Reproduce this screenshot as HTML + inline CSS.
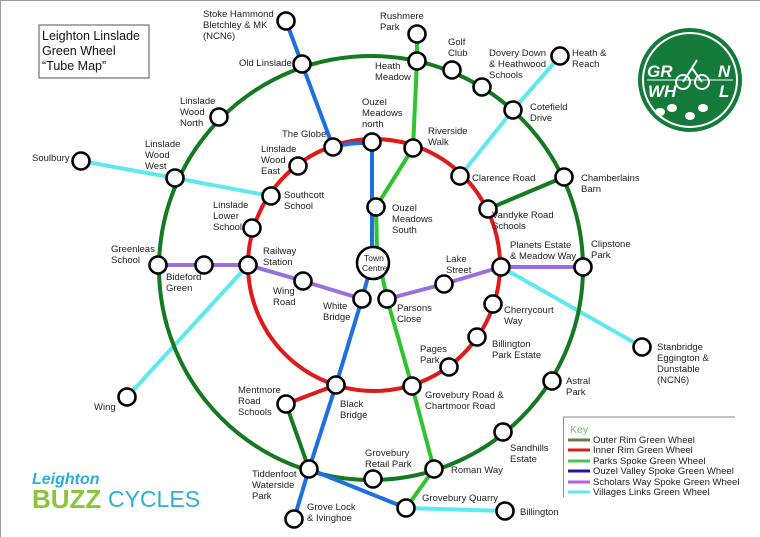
<!DOCTYPE html>
<html><head><meta charset="utf-8"><style>
html,body{margin:0;padding:0;background:#fff}
svg{display:block}
text{font-family:"Liberation Sans",sans-serif;font-size:9.5px;fill:#222}
</style></head><body>
<svg width="760" height="537" viewBox="0 0 760 537" xmlns="http://www.w3.org/2000/svg">
<rect x="0" y="0" width="760" height="537" fill="#fff"/>
<line x1="0" y1="0.5" x2="760" y2="0.5" stroke="#999" stroke-width="1"/>
<line x1="0.5" y1="0" x2="0.5" y2="537" stroke="#999" stroke-width="1"/>
<rect x="39" y="25" width="110" height="53" fill="#fff" stroke="#555" stroke-width="1"/>
<text x="42" y="40" style="font-size:12.5px;fill:#111">Leighton Linslade</text>
<text x="42" y="55" style="font-size:12.5px;fill:#111">Green Wheel</text>
<text x="42" y="70" style="font-size:12.5px;fill:#111">“Tube Map”</text>

<g fill="none" stroke-width="4" stroke-linecap="round">
<g stroke="#5ee8f0">
<polyline points="81,161 175,178 271,196"/>
<polyline points="560,56 513,110 460,176"/>
<line x1="248" y1="265" x2="127" y2="397"/>
<line x1="501" y1="267" x2="642" y2="347"/>
<line x1="406" y1="508" x2="505" y2="511"/>
</g>
<circle cx="371" cy="268" r="212" stroke="#137a1f"/>
<g stroke="#137a1f">
<line x1="564" y1="177" x2="488" y2="209"/>
<line x1="286" y1="404" x2="309" y2="469"/>
</g>
<circle cx="374" cy="265" r="126" stroke="#e0191b"/>
<line x1="336" y1="385" x2="286" y2="404" stroke="#e0191b"/>
<g stroke="#9a6de0">
<polyline points="158,265 204,265 248,265 303,281 362,299"/>
<polyline points="387,299 444,284 501,267 583,267"/>
</g>
<g stroke="#2ec42e">
<polyline points="417,34 417,61 413,148 376,207 377,250 387,299 412,386 434,469 406,508"/>
</g>
<g stroke="#1e6fe0">
<polyline points="286,21 302,64 333,147"/>
<path d="M333,147 Q352,142 372,143"/>
<polyline points="372,142 372,262 362,299 336,385 309,469 294,519"/>
<line x1="309" y1="469" x2="406" y2="508"/>
</g>
</g>

<g fill="#fff" stroke="#000" stroke-width="2.6">
<circle cx="286" cy="21" r="8.5"/><circle cx="302" cy="64" r="8.5"/>
<circle cx="417" cy="34" r="8.5"/><circle cx="417" cy="61" r="8.5"/>
<circle cx="452" cy="70" r="8.5"/><circle cx="482" cy="87" r="8.5"/>
<circle cx="560" cy="56" r="8.5"/><circle cx="513" cy="110" r="8.5"/>
<circle cx="219" cy="117" r="8.5"/><circle cx="372" cy="142" r="8.5"/>
<circle cx="333" cy="147" r="8.5"/><circle cx="413" cy="148" r="8.5"/>
<circle cx="298" cy="166" r="8.5"/><circle cx="460" cy="176" r="8.5"/>
<circle cx="564" cy="177" r="8.5"/><circle cx="81" cy="161" r="8.5"/>
<circle cx="175" cy="178" r="8.5"/><circle cx="271" cy="196" r="8.5"/>
<circle cx="488" cy="209" r="8.5"/><circle cx="376" cy="207" r="8.5"/>
<circle cx="252" cy="228" r="8.5"/>
<circle cx="158" cy="265" r="8.5"/><circle cx="204" cy="265" r="8.5"/>
<circle cx="248" cy="265" r="8.5"/><circle cx="501" cy="267" r="8.5"/>
<circle cx="583" cy="267" r="8.5"/><circle cx="303" cy="281" r="8.5"/>
<circle cx="362" cy="299" r="8.5"/><circle cx="387" cy="299" r="8.5"/>
<circle cx="444" cy="284" r="8.5"/><circle cx="493" cy="304" r="8.5"/>
<circle cx="477" cy="337" r="8.5"/><circle cx="449" cy="367" r="8.5"/>
<circle cx="412" cy="386" r="8.5"/><circle cx="642" cy="347" r="8.5"/>
<circle cx="552" cy="381" r="8.5"/><circle cx="336" cy="385" r="8.5"/>
<circle cx="286" cy="404" r="8.5"/><circle cx="127" cy="397" r="8.5"/>
<circle cx="503" cy="432" r="8.5"/><circle cx="309" cy="469" r="8.5"/>
<circle cx="373" cy="479" r="8.5"/><circle cx="434" cy="469" r="8.5"/>
<circle cx="294" cy="519" r="8.5"/><circle cx="406" cy="508" r="8.5"/>
<circle cx="505" cy="511" r="8.5"/>
<circle cx="373" cy="263" r="16"/>
</g>
<text x="364" y="261" style="font-size:8.5px">Town</text>
<text x="362" y="271" style="font-size:8.5px">Centre</text>

<text x="203" y="17">Stoke Hammond</text><text x="203" y="28">Bletchley &amp; MK</text><text x="203" y="39">(NCN6)</text>
<text x="239" y="66">Old Linslade</text>
<text x="380" y="19">Rushmere</text><text x="380" y="30">Park</text>
<text x="375" y="69">Heath</text><text x="375" y="80">Meadow</text>
<text x="448" y="45">Golf</text><text x="448" y="56">Club</text>
<text x="489" y="56">Dovery Down</text><text x="489" y="67">&amp; Heathwood</text><text x="489" y="78">Schools</text>
<text x="572" y="56">Heath &amp;</text><text x="572" y="67">Reach</text>
<text x="530" y="110">Cotefield</text><text x="530" y="121">Drive</text>
<text x="180" y="104">Linslade</text><text x="180" y="115">Wood</text><text x="180" y="126">North</text>
<text x="362" y="105">Ouzel</text><text x="362" y="116">Meadows</text><text x="362" y="127">north</text>
<text x="282" y="137">The Globe</text>
<text x="428" y="134">Riverside</text><text x="428" y="145">Walk</text>
<text x="261" y="152">Linslade</text><text x="261" y="163">Wood</text><text x="261" y="174">East</text>
<text x="472" y="181">Clarence Road</text>
<text x="581" y="181">Chamberlains</text><text x="581" y="192">Barn</text>
<text x="32" y="161">Soulbury</text>
<text x="145" y="147">Linslade</text><text x="145" y="158">Wood</text><text x="145" y="169">West</text>
<text x="284" y="198">Southcott</text><text x="284" y="209">School</text>
<text x="492" y="218">Vandyke Road</text><text x="492" y="229">Schools</text>
<text x="392" y="211">Ouzel</text><text x="392" y="222">Meadows</text><text x="392" y="233">South</text>
<text x="213" y="208">Linslade</text><text x="213" y="219">Lower</text><text x="213" y="230">School</text>
<text x="111" y="252">Greenleas</text><text x="111" y="263">School</text>
<text x="263" y="254">Railway</text><text x="263" y="265">Station</text>
<text x="510" y="248">Planets Estate</text><text x="510" y="259">&amp; Meadow Way</text>
<text x="591" y="247">Clipstone</text><text x="591" y="258">Park</text>
<text x="446" y="262">Lake</text><text x="446" y="273">Street</text>
<text x="166" y="280">Bideford</text><text x="166" y="291">Green</text>
<text x="273" y="294">Wing</text><text x="273" y="305">Road</text>
<text x="323" y="309">White</text><text x="323" y="320">Bridge</text>
<text x="397" y="311">Parsons</text><text x="397" y="322">Close</text>
<text x="504" y="313">Cherrycourt</text><text x="504" y="324">Way</text>
<text x="492" y="347">Billington</text><text x="492" y="358">Park Estate</text>
<text x="420" y="352">Pages</text><text x="420" y="363">Park</text>
<text x="425" y="398">Grovebury Road &amp;</text><text x="425" y="409">Chartmoor Road</text>
<text x="657" y="350">Stanbridge</text><text x="657" y="361">Eggington &amp;</text><text x="657" y="372">Dunstable</text><text x="657" y="383">(NCN6)</text>
<text x="566" y="384">Astral</text><text x="566" y="395">Park</text>
<text x="238" y="393">Mentmore</text><text x="238" y="404">Road</text><text x="238" y="415">Schools</text>
<text x="340" y="407">Black</text><text x="340" y="418">Bridge</text>
<text x="94" y="410">Wing</text>
<text x="510" y="451">Sandhills</text><text x="510" y="462">Estate</text>
<text x="365" y="456">Grovebury</text><text x="365" y="467">Retail Park</text>
<text x="451" y="473">Roman Way</text>
<text x="252" y="477">Tiddenfoot</text><text x="252" y="488">Waterside</text><text x="252" y="499">Park</text>
<text x="307" y="510">Grove Lock</text><text x="307" y="521">&amp; Ivinghoe</text>
<text x="422" y="501">Grovebury Quarry</text>
<text x="520" y="515">Billington</text>

<line x1="563" y1="417" x2="735" y2="417" stroke="#888" stroke-width="1"/>
<line x1="563.5" y1="417" x2="563.5" y2="497" stroke="#888" stroke-width="1"/>
<text x="570" y="433" style="font-size:10.5px;fill:#6cbf6c">Key</text>
<g stroke-width="3">
<line x1="568" y1="440" x2="590" y2="440" stroke="#6b7a4a"/>
<line x1="568" y1="450" x2="590" y2="450" stroke="#e0191b"/>
<line x1="568" y1="461" x2="590" y2="461" stroke="#4cc44c"/>
<line x1="568" y1="471" x2="590" y2="471" stroke="#1a1aa0"/>
<line x1="568" y1="482" x2="590" y2="482" stroke="#b45ee0"/>
<line x1="568" y1="492" x2="590" y2="492" stroke="#5ee8f0"/>
</g>
<text x="593" y="443">Outer Rim Green Wheel</text>
<text x="593" y="453">Inner Rim Green Wheel</text>
<text x="593" y="464">Parks Spoke Green Wheel</text>
<text x="593" y="474">Ouzel Valley Spoke Green Wheel</text>
<text x="593" y="485">Scholars Way Spoke Green Wheel</text>
<text x="593" y="495">Villages Links Green Wheel</text>

<circle cx="690" cy="80" r="52" fill="#137a3a"/>
<circle cx="690" cy="80" r="47" fill="none" stroke="#fff" stroke-width="2"/>
<line x1="647" y1="80" x2="733" y2="80" stroke="#fff" stroke-width="1"/>
<text x="647" y="77" style="font-size:17px;font-weight:bold;font-style:italic;fill:#fff">GR</text>
<text x="718" y="77" style="font-size:17px;font-weight:bold;font-style:italic;fill:#fff">N</text>
<text x="648" y="97" style="font-size:17px;font-weight:bold;font-style:italic;fill:#fff">WH</text>
<text x="719" y="97" style="font-size:17px;font-weight:bold;font-style:italic;fill:#fff">L</text>
<g fill="none" stroke="#fff" stroke-width="2">
<circle cx="683" cy="82" r="7"/><circle cx="702" cy="82" r="7"/>
<path d="M683,82 L692,68 L702,82 M692,68 L697,60"/>
</g>
<g fill="#fff">
<ellipse cx="660" cy="112" rx="5" ry="4"/><ellipse cx="672" cy="108" rx="5" ry="4"/>
<ellipse cx="690" cy="116" rx="5" ry="4"/><ellipse cx="703" cy="108" rx="5" ry="4"/>
</g>

<text x="32" y="484" style="font-size:16px;font-weight:bold;font-style:italic;fill:#2ab0d8">Leighton</text>
<text x="32" y="508" style="font-size:26px;font-weight:bold;fill:#8cc43c">BUZZ</text>
<text x="108" y="507" style="font-size:23px;fill:#2ab0d8">CYCLES</text>
</svg>
</body></html>
